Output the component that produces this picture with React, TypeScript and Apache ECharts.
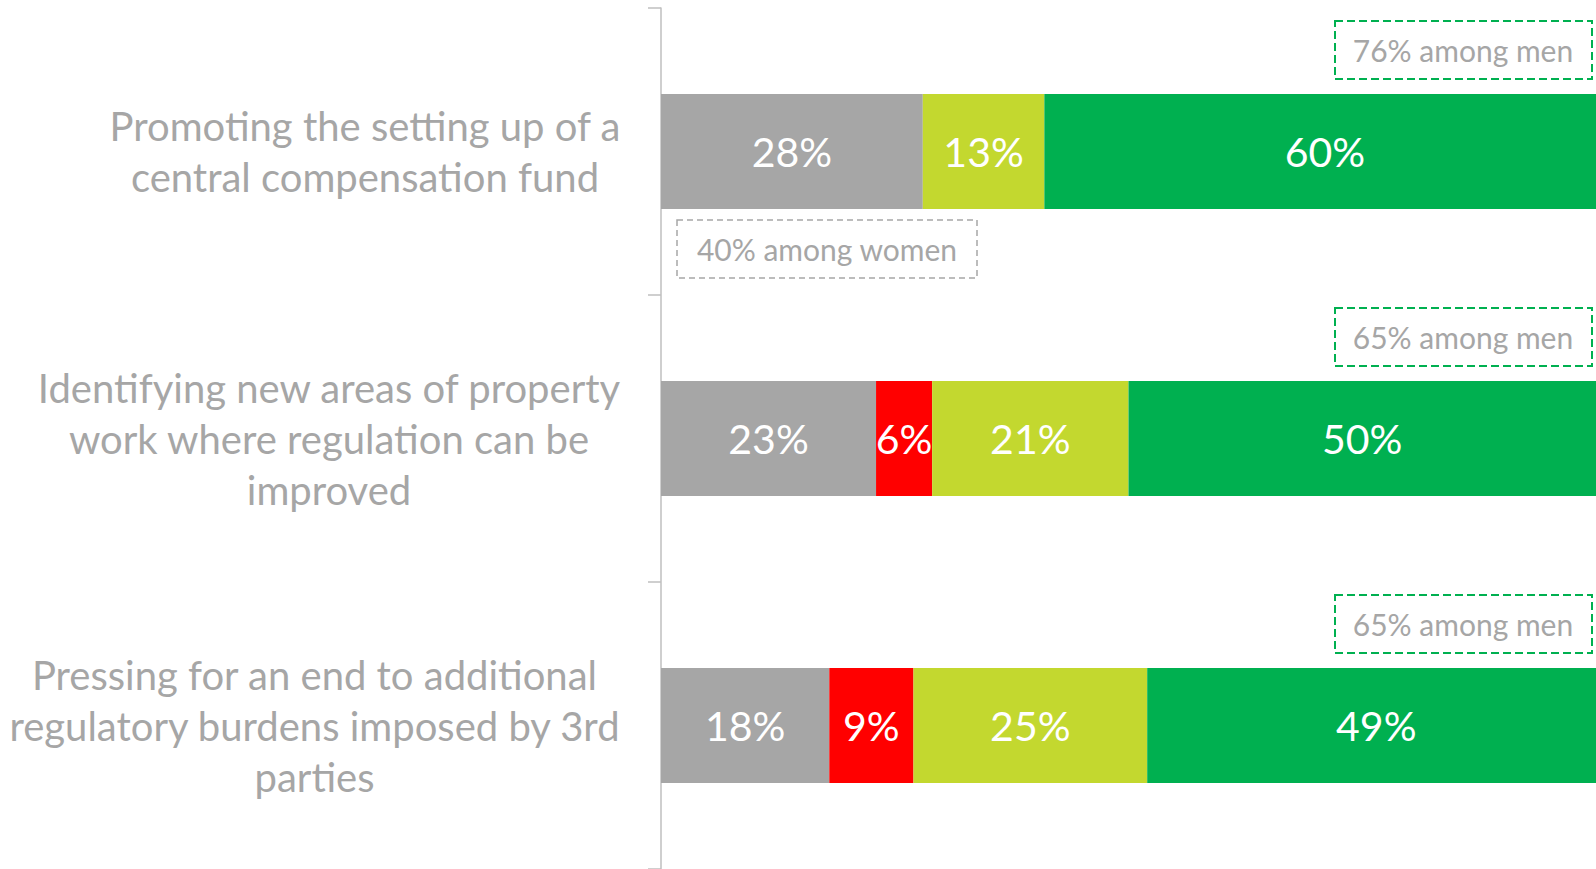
import React, { useEffect, useRef } from 'react';
import * as echarts from 'echarts';

const categories = [
  'Promoting the setting up of a\ncentral compensation fund',
  'Identifying new areas of property\nwork where regulation can be\nimproved',
  'Pressing for an end to additional\nregulatory burdens imposed by 3rd\nparties',
];
const greyValues = [28, 23, 18];
const redValues = [0, 6, 9];
const limeValues = [13, 21, 25];
const greenValues = [60, 50, 49];
const menNotes = ['76% among men', '65% among men', '65% among men'];
const womenNote = '40% among women';

const FONT = 'Lato, "Noto Sans", sans-serif';
const CAT_SIZE = 40;
const GREY_TEXT = '#a6a6a6';

function measure(text: string, size: number): number {
  const c = document.createElement('canvas');
  const ctx = c.getContext('2d');
  if (!ctx) return text.length * size * 0.5;
  ctx.font = `${size}px ${FONT}`;
  return ctx.measureText(text).width;
}

export default function App() {
  const ref = useRef<HTMLDivElement>(null);
  useEffect(() => {
    document.body.style.margin = '0';
    if (!ref.current) return;
    const chart = echarts.init(ref.current, undefined, { renderer: 'svg' });

    const rich: Record<string, any> = {};
    categories.forEach((c, i) => {
      const w = Math.max(...c.split('\n').map((l) => measure(l, CAT_SIZE)));
      rich['c' + i] = {
        width: Math.ceil(w) + 2,
        align: 'center',
        fontSize: CAT_SIZE,
        fontFamily: FONT,
        color: GREY_TEXT,
        lineHeight: 51,
      };
    });

    const labelCfg = {
      show: true,
      position: 'inside',
      color: '#ffffff',
      fontSize: 41,
      fontFamily: FONT,
      formatter: (p: any) => (p.value ? p.value + '%' : ''),
    };

    const mk = (name: string, data: number[], color: string) => ({
      name,
      type: 'bar',
      stack: 'total',
      data,
      barWidth: '40%',
      clip: false,
      itemStyle: { color },
      label: labelCfg,
      emphasis: { disabled: true },
    });

    const menBox = (y: number, text: string) => ({
      type: 'group',
      children: [
        {
          type: 'rect',
          shape: { x: 1335, y, width: 257, height: 58 },
          style: { fill: 'none', stroke: '#00b050', lineWidth: 2, lineDash: [8, 4] },
        },
        {
          type: 'text',
          style: {
            text,
            x: 1463,
            y: y + 29,
            textAlign: 'center',
            textVerticalAlign: 'middle',
            fill: GREY_TEXT,
            font: `30px ${FONT}`,
          },
        },
      ],
    });

    chart.setOption({
      animation: false,
      grid: { left: 661, right: 0, top: 8, bottom: -1, containLabel: false },
      xAxis: { type: 'value', min: 0, max: 100, show: false },
      yAxis: {
        type: 'category',
        data: categories,
        inverse: true,
        axisLine: { show: true, lineStyle: { color: '#bfbfbf', width: 1.5 } },
        axisTick: { show: true, length: 13, lineStyle: { color: '#bfbfbf', width: 1.5 } },
        axisLabel: {
          margin: 39,
          align: 'right',
          formatter: (v: string, i: number) =>
            v
              .split('\n')
              .map((l) => `{c${i}|${l}}`)
              .join('\n'),
          rich,
        },
      },
      series: [
        mk('Grey', greyValues, '#a6a6a6'),
        mk('Red', redValues, '#ff0000'),
        mk('Lime', limeValues, '#c3d82f'),
        mk('Green', greenValues, '#00b050'),
      ],
      graphic: [
        menBox(21, menNotes[0]),
        menBox(308, menNotes[1]),
        menBox(595, menNotes[2]),
        {
          type: 'group',
          children: [
            {
              type: 'rect',
              shape: { x: 677, y: 220, width: 300, height: 58 },
              style: { fill: 'none', stroke: '#a6a6a6', lineWidth: 1.5, lineDash: [6, 4] },
            },
            {
              type: 'text',
              style: {
                text: womenNote,
                x: 827,
                y: 249,
                textAlign: 'center',
                textVerticalAlign: 'middle',
                fill: GREY_TEXT,
                font: `30px ${FONT}`,
              },
            },
          ],
        },
      ],
    });
    return () => chart.dispose();
  }, []);
  return <div ref={ref} style={{ width: 1596, height: 869 }} />;
}
